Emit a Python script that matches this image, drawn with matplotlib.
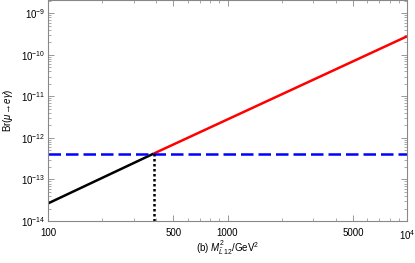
import matplotlib
matplotlib.use("Agg")
import matplotlib.pyplot as plt
from matplotlib.ticker import LogLocator, FixedLocator, NullFormatter

# data
x_below = [100, 388]
br_below = [2.65e-14, 4.2e-13]
x_above = [388, 1e4]
br_above = [4.2e-13, 2.8e-10]
br_limit = 4.2e-13
x_cross = 388

x_ticks = [100, 500, 1000, 5000, 10000]
x_tick_labels = ["100", "500", "1000", "5000", r"$10^4$"]

plt.rcParams["font.family"] = ["Liberation Sans", "DejaVu Sans"]
plt.rcParams["mathtext.fontset"] = "custom"
plt.rcParams["mathtext.rm"] = "Liberation Sans"
plt.rcParams["mathtext.it"] = "Liberation Sans:italic"

frame = "#888888"
fig = plt.figure(figsize=(4.15, 2.63), dpi=100)
ax = fig.add_axes([48 / 415, 1 - 221 / 263, 359 / 415, 221 / 263])

ax.plot(x_below, br_below, color="black", linewidth=1.8, solid_capstyle="butt")
ax.plot(x_above, br_above, color="red", linewidth=1.8, solid_capstyle="butt")
ax.axhline(br_limit, color="blue", linewidth=1.8, linestyle=(0, (5, 2)))
ax.plot([x_cross, x_cross], [1e-14, br_limit], color="black", linewidth=1.8,
        linestyle=(0, (1, 1)))

ax.set_xscale("log")
ax.set_yscale("log")
ax.set_xlim(100, 1e4)
ax.set_ylim(1e-14, 2.1e-9)

ax.xaxis.set_major_locator(FixedLocator(x_ticks))
ax.set_xticklabels(x_tick_labels)
ax.xaxis.set_minor_locator(LogLocator(base=10, subs=range(2, 10)))
ax.xaxis.set_minor_formatter(NullFormatter())
ax.yaxis.set_major_locator(LogLocator(base=10, numticks=10))
ax.yaxis.set_minor_locator(LogLocator(base=10, subs=range(2, 10), numticks=10))
ax.yaxis.set_minor_formatter(NullFormatter())

ax.tick_params(which="both", direction="in", top=True, right=True,
               color=frame, labelsize=7)
ax.tick_params(axis="x", pad=5)
ax.tick_params(axis="y", pad=2)
ax.tick_params(which="major", length=4, width=0.6)
ax.tick_params(which="minor", length=2, width=0.5)
for sp in ax.spines.values():
    sp.set_color(frame)
    sp.set_linewidth(0.8)

ax.set_xlabel(r"(b) $M^2_{\tilde{L}\,12}$/GeV$^2$", fontsize=7, va="center")
ax.xaxis.set_label_coords(0.5, -0.122)
ax.set_ylabel(r"Br($\mu\!\rightarrow\!e\gamma$)", fontsize=7, labelpad=4)

fig.savefig("out.png", dpi=100)
